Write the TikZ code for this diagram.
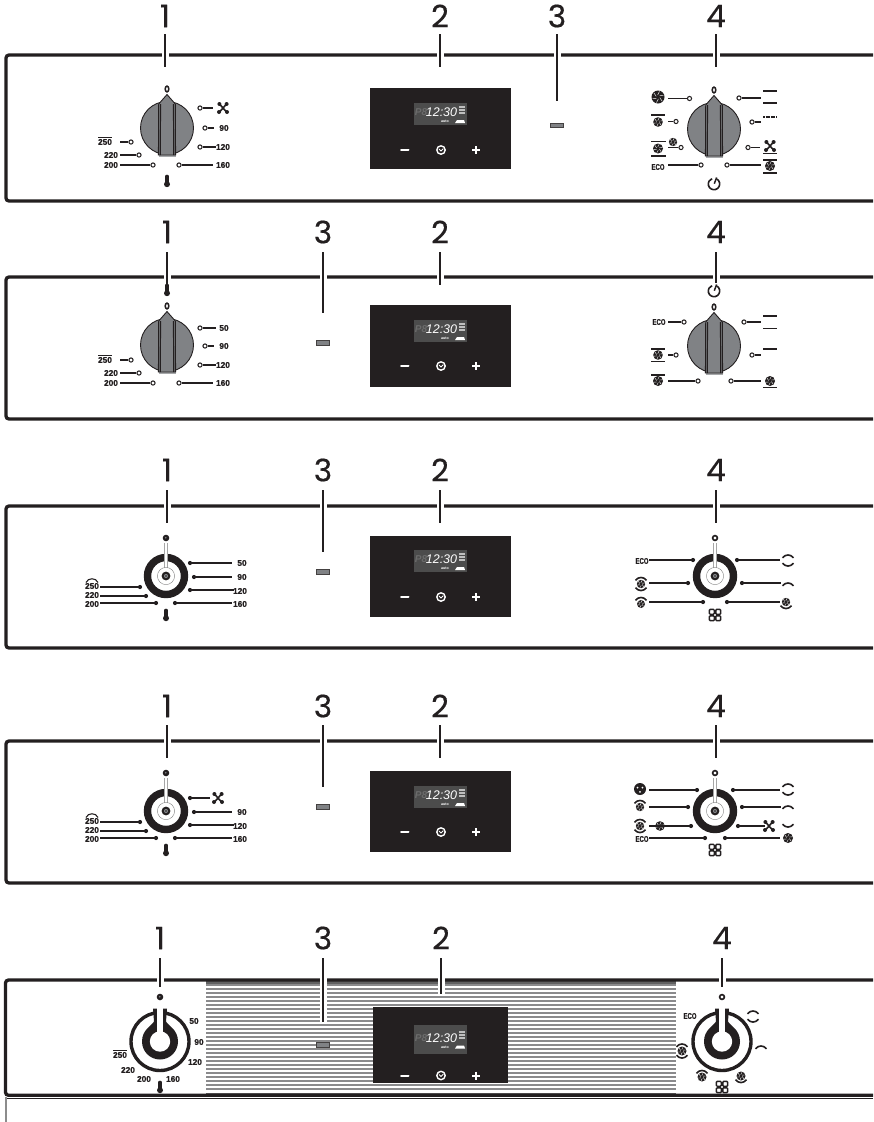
\documentclass[tikz,border=0pt]{standalone}
\usepackage{fontspec}
\setmainfont{Liberation Sans}
\newfontfamily\labfont[BoldFeatures={FakeBold=0.7}]{Liberation Sans}
\newfontfamily\numfont[FakeBold=0.4]{Poppins}
\usetikzlibrary{calc}
\definecolor{ink}{HTML}{231F20}
\definecolor{knobgrey}{HTML}{808285}
\definecolor{stripe}{HTML}{8A8A8C}
\newcounter{nid}
\tikzset{
  panelline/.style={draw=ink,line width=3.3,rounded corners=3},
  leader/.style={draw=ink,line width=2.2},
  halo/.style={draw=white,line width=7},
  calloutnum/.style={font=\numfont\fontsize{31}{31}\selectfont,text=ink,inner sep=0},
  lab/.style={font=\labfont\bfseries\fontsize{8.3}{8.3}\selectfont,text=ink,inner sep=0},
  wire/.style={draw=ink,line width=1.15},
  opendot/.style={circle,draw=ink,fill=white,line width=1,minimum size=4.2,inner sep=0},
  fulldot/.style={circle,fill=ink,minimum size=4.2,inner sep=0},
  barline/.style={draw=ink,line width=1.5},
  lamp/.style={draw=ink!85,fill=knobgrey,line width=1,minimum width=13.5,minimum height=4.6,inner sep=0},
  blackpanel/.style={fill=ink,draw=none},
}
\newcommand\callout[5]{% x, y of number, text, y1, y2
  \stepcounter{nid}
  \node[calloutnum] (n\thenid) at (#1,#2) {#3};
  \path[halo] (#1,#4) -- (#1,#5);
  \coordinate (c\thenid) at (#1,#4);
  \draw[leader] (c\thenid) -- (#1,#5);
}
\newcommand\panel[2]{\draw[panelline] (873,#1) -- (6,#1) -- (6,#2) -- (873,#2);}
\newcommand\lab[3]{\stepcounter{nid}\node[lab] (n\thenid) at (#1,#2) {#3};}
\newcommand\eco[2]{\lab{#1}{#2}{\scalebox{0.72}[1]{ECO}}}
\newcommand\labbar[3]{\lab{#1}{#2}{#3}\draw[ink,line width=0.8] (#1-7,#2-4.8) -- (#1+7,#2-4.8);}
\newcommand\labarch[3]{\lab{#1}{#2}{#3}\draw[ink,line width=1.1] (#1-6,#2-3.5) .. controls (#1-4,#2-8.5) and (#1+4,#2-8.5) .. (#1+6,#2-3.5);}
\newcommand\conO[3]{\stepcounter{nid}\node[opendot] (n\thenid) at (#1,#2) {};\draw[wire] (n\thenid) -- (#3,#2);}
\newcommand\conF[3]{\stepcounter{nid}\node[fulldot] (n\thenid) at (#1,#2) {};\draw[wire] (n\thenid) -- (#3,#2);}
\newcommand\hbarline[3]{\draw[barline] (#1,#3) -- (#2,#3);}
\newcommand\fan[3]{% x y r
  \fill[ink] (#1,#2) circle (#3);
  \foreach \a in {20,80,...,320}{\draw[white,line width=0.4] ($(#1,#2)+(\a:#3*0.3)$) -- ($(#1,#2)+(\a+25:#3*0.9)$);}
}
\newcommand\therm[2]{%
  \fill[ink] (#1,#2+3.2) circle (3);
  \draw[ink,line width=3.4,line cap=round] (#1,#2+3) -- (#1,#2-4.6);
}
\newcommand\zeromark[2]{\draw[ink,line width=1.5] (#1,#2) ellipse (1.8 and 2.9);}
\newcommand\ringmark[2]{\draw[ink,line width=1.6] (#1,#2) circle (2.4);}
\newcommand\dotmark[2]{\fill[ink] (#1,#2) circle (3.3);\fill[knobgrey] (#1-0.3,#2-0.3) circle (0.9);}
\newcommand\power[2]{%
  \draw[ink,line width=1.6] (#1+2.85,#2-4.94) arc (-60:250:5.7);
  \draw[ink,line width=1.5] (#1+2.6,#2-6.5) -- (#1+0.3,#2-0.3);
}
\newcommand\xicon[2]{%
  \draw[ink,line width=1.6] (#1-3.5,#2-4) -- (#1+3.5,#2+4) (#1+3.5,#2-4) -- (#1-3.5,#2+4);
  \foreach \dx/\dy in {-3.6/-4,3.6/-4,-4/4,4/4}{\fill[ink] (#1+\dx,#2+\dy) circle (2);}
}
\newcommand\toparc[2]{\draw[ink,line width=1.6] (#1-5.5,#2+1.8) .. controls (#1-2.5,#2-2) and (#1+2.5,#2-2) .. (#1+5.5,#2+1.8);}
\newcommand\botarc[2]{\draw[ink,line width=1.6] (#1-5.5,#2-1.8) .. controls (#1-2.5,#2+2) and (#1+2.5,#2+2) .. (#1+5.5,#2-1.8);}
\newcommand\squares[2]{%
  \foreach \dx in {-3.2,3.2}{\foreach \dy in {-3.2,3.2}{
    \draw[ink,line width=1.4,rounded corners=0.8] (#1+\dx-2.4,#2+\dy-2.4) rectangle (#1+\dx+2.4,#2+\dy+2.4);}}
}
\newcommand\knobA[2]{%
\begin{scope}[shift={(#1,#2)}]
  \fill[knobgrey] (0,0) circle (26.5);
  \draw[ink,line width=0.9] (0,0) circle (26.5);
  \fill[knobgrey!70] (-8.5,26) rectangle (8.5,29);
  \fill[knobgrey,draw=ink,line width=0.9] (-8.3,-24) -- (0,-33.5) -- (8.3,-24) -- (8.6,27) -- (-8.6,27) -- cycle;
  \draw[ink,line width=1.2] (-6.5,-24) -- (-6.8,27) (6.5,-24) -- (6.8,27);
\end{scope}}
\newcommand\knobB[2]{%
\begin{scope}[shift={(#1,#2)}]
  \draw[ink,line width=7.4] (0,0) circle (18.5);
  \draw[black!35,line width=3.6] (0,-33) -- (0,-8.5);
  \draw[white,line width=2.2] (0,-33) -- (0,-8.5);
  \draw[black!50,line width=0.4] (0,0) circle (8.6);
  \fill[ink] (0,0) circle (4.4);
  \fill[knobgrey] (0,0) circle (2.1);
  \fill[ink] (0,0) circle (0.8);
\end{scope}}
\newcommand\knobC[2]{%
\begin{scope}[shift={(#1,#2)}]
  \draw[ink,line width=3.4] (0,0) circle (29);
  \fill[ink] (-7,-33) -- (7,-33) -- (6,-20) .. controls (8,-16) and (18,-12) .. (18,0)
     arc (0:180:18) .. controls (-18,-12) and (-8,-16) .. (-6,-20) -- cycle;
  \fill[white] (0,0) circle (10.2);
  \fill[white] (-2.6,-33.5) rectangle (2.6,-8);
\end{scope}}
\newcommand\disp[7]{% x1 y1 x2 y2 lcdy lcdh btny
  \fill[blackpanel] (#1,#2) rectangle (#3,#4);
  \fill[black!70] (414,#5-#6/2) rectangle (467,#5+#6/2);
  \stepcounter{nid}
  \node[font=\bfseries\itshape\fontsize{10}{10}\selectfont,text=black!58,inner sep=0] (n\thenid) at (421,#5-1.5) {P8};
  \stepcounter{nid}
  \node[font=\itshape\fontsize{12.5}{12.5}\selectfont,text=white,inner sep=0] (n\thenid) at (441.5,#5-1.5) {12:30};
  \stepcounter{nid}
  \node[font=\bfseries\fontsize{3.6}{4}\selectfont,text=white,inner sep=0] (n\thenid) at (445,#5+7.5) {auto};
  \fill[white] (455,#5+9) -- (457,#5+6) -- (464,#5+6) -- (465,#5+9) -- cycle;
  \foreach \dy in {-8.5,-5.5,-2.5}{\fill[white!75!black] (458.5,#5+\dy) rectangle (464.5,#5+\dy+2);}
  \draw[white,line width=2,line cap=round] (401,#7) -- (408.5,#7);
  \draw[white,line width=1.4] (441,#7) circle (4.2);
  \draw[white,line width=0.9] (439,#7-1) -- (441,#7+1) -- (443.3,#7-1.4);
  \draw[white,line width=2] (472.2,#7) -- (480,#7) (476,#7-4) -- (476,#7+4);
}
\begin{document}
\begin{tikzpicture}[x=1pt,y=-1pt]
\useasboundingbox (0,0) rectangle (873,1122);
\fill[white] (0,0) rectangle (873,1122);

%%% PANEL 1
\panel{55}{201}
\callout{165}{16}{1}{34}{67}
\callout{440}{16}{2}{34}{67}
\callout{557}{16}{3}{34}{101}
\callout{716}{16}{4}{34}{67}
\disp{370}{88}{511}{169}{114}{22}{150}
\stepcounter{nid}\node[lamp] (n\thenid) at (557,125.5) {};
\knobA{167}{128}
\zeromark{167}{89}
\conO{200}{108}{213}\xicon{223}{108}
\conO{205}{128}{214}\lab{224}{128}{90}
\conO{200}{147}{216}\lab{223}{147}{120}
\conO{179}{165}{213}\lab{223}{165}{160}
\labbar{105}{142}{250}\conO{131}{142}{120}
\lab{111}{155}{220}\conO{139}{155}{120}
\lab{111}{165}{200}\conO{153}{165}{120}
\therm{167}{181}
% right knob
\knobA{714}{129}
\zeromark{714}{90}
\fan{658}{97}{6.5}\conO{689.5}{98.5}{668}
\hbarline{651}{665}{115}\fan{658}{122}{4.8}\conO{676}{121.5}{668}
\hbarline{651}{666}{141.5}\hbarline{651}{666}{156}\fan{658}{148.5}{5}
\fan{673}{142}{4.2}\hbarline{668}{678}{147.5}\conO{681}{147.5}{677}
\eco{658}{167}\conO{701}{165}{668}
\conO{739}{98}{761}\hbarline{763}{777}{91}\hbarline{763}{777}{103}
\conO{752}{122}{761}\draw[barline,dash pattern=on 2 off 0.6] (763,117) -- (777,117);
\conO{748}{147.5}{760}\xicon{770}{146}\hbarline{763}{777}{153.5}
\conO{727}{165}{761}\fan{770}{166}{5}\hbarline{763}{777}{160}\hbarline{763}{777}{173}
\power{714}{184}

%%% PANEL 2
\panel{277}{419}
\callout{167}{232}{1}{252}{285}
\callout{323}{232}{3}{252}{313}
\callout{440}{232}{2}{252}{285}
\callout{716}{232}{4}{252}{283}
\disp{370}{305}{511}{387}{331}{22}{366}
\stepcounter{nid}\node[lamp] (n\thenid) at (323,343) {};
\knobA{167}{345}
\zeromark{167}{306}
\therm{167}{290}
\conO{200}{328}{216}\lab{224}{328}{50}
\conO{205}{346}{214}\lab{224}{346}{90}
\conO{200}{365}{216}\lab{223}{365}{120}
\conO{179}{383}{213}\lab{223}{383}{160}
\labbar{105}{360}{250}\conO{131}{360}{120}
\lab{111}{373}{220}\conO{139}{373}{120}
\lab{111}{383}{200}\conO{153}{383}{120}
% right knob
\knobA{714}{346}
\zeromark{714}{307}
\power{714}{291}
\eco{659}{322}\conO{684}{322}{668}
\conO{744}{322}{761}\hbarline{763}{777}{316}\hbarline{763}{777}{328.5}
\conO{752}{355}{761}\hbarline{763}{777}{349}
\hbarline{651}{665}{349}\hbarline{651}{665}{361.5}\fan{658}{355}{4.8}\conO{676}{355}{668}
\hbarline{651}{665}{375}\fan{658}{381}{5}\conO{698}{381}{668}
\conO{731}{381}{761}\fan{770}{381}{5}\hbarline{763}{777}{387.5}

%%% PANEL 3
\panel{506}{648}
\callout{167}{470}{1}{490}{523}
\callout{323}{470}{3}{490}{552}
\callout{440}{470}{2}{490}{523}
\callout{716}{470}{4}{490}{523}
\disp{370}{536}{511}{617}{561}{22}{597}
\stepcounter{nid}\node[lamp] (n\thenid) at (323,572) {};
\knobB{166}{576}
\dotmark{166}{538}
\conF{190}{563}{232}\lab{242}{563}{50}
\conF{194}{577}{232}\lab{242}{577}{90}
\conF{190}{590}{234}\lab{240}{591}{120}
\conF{175}{603}{232}\lab{240}{604}{160}
\labarch{92}{586}{250}\conF{140}{587}{100}
\lab{92}{595}{220}\conF{146}{596}{100}
\lab{92}{604}{200}\conF{156}{603}{100}
\therm{166}{615}
% right knob
\knobB{715}{576}
\ringmark{715}{538}
\eco{642}{561}\conF{693}{560}{649}
\fan{641}{584}{4.2}\toparc{641}{578.5}\botarc{641}{589.5}\conF{688}{583}{649}
\fan{641}{604}{4}\toparc{641}{598.5}\conF{703}{602}{649}
\conF{737}{560}{780}\toparc{788}{556}\botarc{788}{565}
\conF{742}{583}{781}\toparc{788}{584}
\conF{727}{602}{780}\fan{786}{602}{4.2}\botarc{786}{607.5}
\squares{715}{615}

%%% PANEL 4
\panel{741}{883}
\callout{167}{706}{1}{725}{758}
\callout{323}{706}{3}{725}{787}
\callout{440}{706}{2}{725}{758}
\callout{716}{706}{4}{725}{758}
\disp{370}{771}{511}{852}{797}{22}{832}
\stepcounter{nid}\node[lamp] (n\thenid) at (323,807) {};
\knobB{166}{811}
\dotmark{166}{773}
\conF{190}{798}{210}\xicon{218}{798}
\conF{194}{812}{232}\lab{242}{812}{90}
\conF{190}{825}{234}\lab{240}{826}{120}
\conF{175}{838}{232}\lab{240}{839}{160}
\labarch{92}{821}{250}\conF{140}{822}{100}
\lab{92}{830}{220}\conF{146}{831}{100}
\lab{92}{839}{200}\conF{156}{838}{100}
\therm{166}{850}
% right knob
\knobB{715}{811}
\ringmark{715}{773}
\fill[ink] (640,789) circle (6);\foreach \a in {90,210,330}{\fill[white] ($(640,789)+(\a:2.8)$) circle (1);}
\conF{697}{790}{649}
\fan{640}{807}{4.2}\toparc{640}{801.5}\conF{688}{807}{649}
\fan{640}{826}{4.2}\toparc{640}{820.5}\botarc{640}{831.5}\fan{660}{826}{4.8}\conF{691}{826}{649}
\eco{642}{839}\conF{705}{838}{649}
\conF{733}{790}{780}\toparc{788}{785}\botarc{788}{794}
\conF{742}{807}{781}\toparc{788}{807}
\conF{738}{826}{765}\xicon{769}{826}\botarc{788}{826}
\conF{725}{838}{780}\fan{788}{838}{5}
\squares{715}{850}

%%% PANEL 5
\foreach \y in {985,989,...,1091}{\draw[stripe,line width=2] (206,\y) -- (676,\y);}
\fill[stripe!70!black] (206,981) rectangle (676,983.5);
\fill[stripe!70!black] (206,1092.5) rectangle (676,1095);
\draw[panelline] (873,980) -- (5.5,980) -- (5.5,1095.3) -- (873,1095.3);
\draw[ink,line width=0.9] (873,1098) -- (7,1098);
\draw[black!45,line width=2.2] (6.2,1097) -- (6.2,1122);
\callout{160}{938}{1}{958}{987}
\callout{323}{938}{3}{958}{1022}
\callout{441}{938}{2}{958}{994}
\callout{722}{938}{4}{958}{987}
\disp{373}{1007}{508}{1083}{1039.5}{29}{1075.5}
\stepcounter{nid}\node[lamp] (n\thenid) at (323,1045) {};
\knobC{160}{1041.5}
\dotmark{160}{997}
\lab{194}{1021}{50}
\lab{199}{1042}{90}
\lab{195}{1062}{120}
\lab{173}{1079}{160}
\lab{144}{1079}{200}
\lab{128}{1070}{220}
\labbar{120}{1055}{250}
\therm{160}{1087}
\knobC{722}{1041.5}
\ringmark{722}{997}
\eco{690}{1016}
\toparc{753}{1012}\botarc{753}{1021}
\toparc{761}{1047}
\fan{682}{1051}{4.5}\toparc{682}{1045}\botarc{682}{1057}
\fan{702}{1077}{4.5}\toparc{702}{1071.5}
\squares{722}{1087}
\fan{741}{1076}{4.5}\botarc{741}{1081.5}
\end{tikzpicture}
\end{document}
